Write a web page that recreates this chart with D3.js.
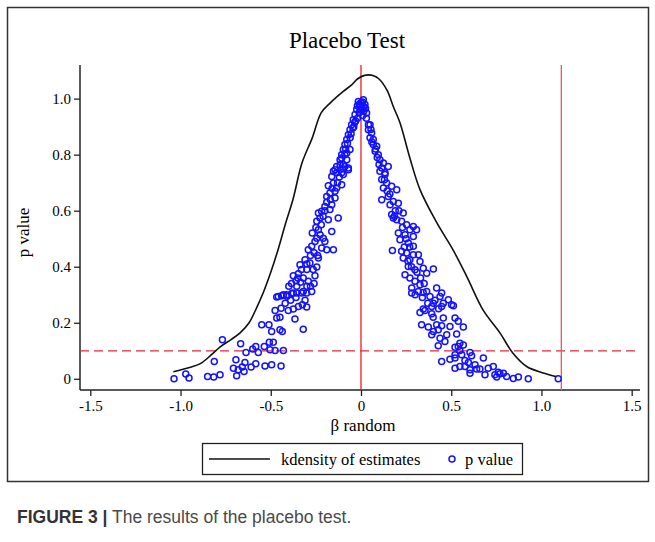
<!DOCTYPE html>
<html>
<head>
<meta charset="utf-8">
<script src="https://cdn.jsdelivr.net/npm/d3@7"></script>
<style>
  body { margin: 0; background: #fff; }
  svg text { font-family: "Liberation Serif", "Times New Roman", serif; fill: #000; }
  svg text.caption { font-family: "Liberation Sans", Arial, sans-serif; fill: #4a4a4a; }
</style>
</head>
<body>
<div id="d3-container"></div>
<script>
/**
 * DATA
 * */
const xTicks = [-1.5, -1.0, -0.5, 0, 0.5, 1.0, 1.5];
const yTicks = [0, 0.2, 0.4, 0.6, 0.8, 1.0];
const refLinesX = [0, 1.11];
const refLineY = 0.1;

// kernel density of the placebo estimates
const kdeX = [-1.04, -0.95, -0.89, -0.83, -0.78, -0.72, -0.67, -0.62, -0.576, -0.54, -0.5, -0.46, -0.42,
  -0.377, -0.327, -0.27, -0.22, -0.17, -0.1, -0.05, -0.02, 0.02, 0.07, 0.1, 0.144, 0.18, 0.216, 0.27,
  0.327, 0.42, 0.51, 0.587, 0.676, 0.77, 0.84, 0.92, 1.01, 1.085];
const kdeY = [0.025, 0.04, 0.054, 0.085, 0.114, 0.14, 0.164, 0.2, 0.257, 0.31, 0.38, 0.46, 0.55,
  0.64, 0.77, 0.86, 0.95, 0.985, 1.025, 1.05, 1.07, 1.083, 1.082, 1.07, 1.03, 0.97, 0.914, 0.79,
  0.675, 0.557, 0.46, 0.364, 0.246, 0.164, 0.093, 0.043, 0.021, 0.007];

// [beta random, p value]
const placeboPoints = [
  [-1.036,0.0],[-0.971,0.017],[-0.953,0.003],[-0.85,0.008],[-0.816,0.006],[-0.781,0.014],[-0.813,0.062],
  [-0.768,0.139],[-0.667,0.125],[-0.693,0.068],[-0.707,0.038],[-0.689,0.011],[-0.68,0.032],[-0.658,0.042],
  [-0.643,0.058],[-0.648,0.026],[-0.609,0.042],[-0.583,0.054],[-0.637,0.094],[-0.6,0.106],[-0.583,0.115],
  [-0.569,0.094],[-0.536,0.115],[-0.532,0.046],[-0.495,0.05],[-0.443,0.046],[-0.508,0.13],[-0.486,0.13],
  [-0.504,0.104],[-0.476,0.101],[-0.43,0.101],[-0.55,0.193],[-0.51,0.193],[-0.495,0.169],[-0.449,0.175],
  [-0.436,0.169],[-0.467,0.217],[-0.449,0.22],[-0.366,0.213],[-0.32,0.177],[-0.476,0.244],[-0.443,0.252],
  [-0.403,0.244],[-0.375,0.249],[-0.347,0.258],[-0.325,0.264],[-0.301,0.256],[-0.467,0.292],[-0.44,0.296],
  [-0.412,0.3],[-0.384,0.304],[-0.356,0.306],[-0.328,0.306],[-0.301,0.306],
  [-0.458,0.294],[-0.43,0.3],[-0.41,0.295],[-0.375,0.306],[-0.356,0.33],[-0.32,0.312],[-0.273,0.312],
  [-0.4,0.33],[-0.385,0.34],[-0.36,0.35],[-0.335,0.345],[-0.3,0.33],[-0.265,0.39],[-0.3,0.39],
  [-0.375,0.368],[-0.347,0.375],[-0.32,0.36],[-0.292,0.348],[-0.255,0.368],[-0.338,0.407],[-0.31,0.425],
  [-0.283,0.413],[-0.245,0.399],[-0.236,0.431],[-0.292,0.461],[-0.273,0.473],[-0.255,0.49],[-0.245,0.502],
  [-0.218,0.467],[-0.19,0.461],[-0.153,0.461],[-0.227,0.514],[-0.209,0.502],[-0.236,0.532],[-0.245,0.562],
  [-0.227,0.574],[-0.236,0.592],[-0.218,0.598],[-0.181,0.568],[-0.162,0.526],[-0.172,0.604],[-0.2,0.615],
  [-0.162,0.621],[-0.126,0.574],[-0.19,0.651],[-0.172,0.663],[-0.144,0.669],[-0.144,0.645],[-0.181,0.689],
  [-0.153,0.699],[-0.135,0.681],[-0.107,0.693],[-0.162,0.722],[-0.135,0.735],[-0.098,0.729],[-0.144,0.746],
  [-0.116,0.764],[-0.089,0.758],[-0.07,0.746],[-0.107,0.788],[-0.079,0.782],[-0.079,0.806],[-0.061,0.818],
  [-0.35,0.36],[-0.33,0.39],[-0.3,0.41],[-0.28,0.44],[-0.26,0.45],[-0.27,0.52],[-0.25,0.54],[-0.22,0.55],
  [-0.21,0.58],[-0.2,0.6],[-0.19,0.63],[-0.17,0.64],[-0.16,0.68],[-0.13,0.7],[-0.12,0.72],[-0.1,0.75],
  [-0.42,0.27],[-0.39,0.28],[-0.36,0.29],[-0.31,0.28],[-0.28,0.33],[-0.26,0.34],[-0.24,0.44],[-0.2,0.49],
  [-0.015,0.99],[0.013,0.996],[-0.006,0.973],[0.022,0.979],[-0.024,0.961],[-0.033,0.943],[-0.043,0.925],
  [-0.052,0.907],[-0.061,0.889],[-0.07,0.871],[-0.079,0.854],[-0.089,0.836],[-0.098,0.818],[-0.107,0.8],
  [-0.116,0.782],[-0.098,0.764],[-0.07,0.752],[-0.135,0.758],[-0.153,0.741],[-0.107,0.735],
  [0.031,0.949],[0.0,0.985],[0.005,0.965],[-0.01,0.95],[0.015,0.955],[-0.02,0.93],[-0.035,0.915],
  [-0.045,0.895],[-0.055,0.875],[-0.06,0.86],[-0.075,0.84],[-0.085,0.82],[-0.09,0.8],[0.03,0.93],[0.025,0.965],
  [-0.01,0.98],[0.008,0.988],[-0.02,0.975],[0.018,0.97],[-0.005,0.96],[0.01,0.94],[-0.03,0.92],[-0.04,0.9],
  [0.041,0.907],[0.05,0.907],[0.041,0.889],[0.059,0.877],[0.05,0.86],[0.068,0.854],[0.068,0.836],
  [0.087,0.83],[0.078,0.812],[0.096,0.8],[0.105,0.782],[0.124,0.77],[0.115,0.752],[0.151,0.758],
  [0.133,0.735],[0.055,0.89],[0.06,0.845],[0.08,0.82],[0.09,0.79],[0.1,0.765],
  [0.105,0.741],[0.133,0.729],[0.115,0.711],[0.142,0.699],[0.124,0.681],[0.17,0.687],[0.198,0.675],
  [0.115,0.639],[0.151,0.651],[0.179,0.633],[0.207,0.627],[0.161,0.621],[0.179,0.574],[0.198,0.568],
  [0.17,0.586],[0.185,0.58],[0.234,0.592],[0.225,0.562],[0.253,0.55],[0.29,0.544],[0.271,0.532],[0.308,0.532],
  [0.207,0.52],[0.244,0.514],[0.29,0.508],[0.216,0.496],[0.262,0.485],[0.29,0.473],[0.174,0.458],
  [0.225,0.455],[0.253,0.449],[0.29,0.443],[0.318,0.443],[0.234,0.431],[0.271,0.425],[0.327,0.419],
  [0.262,0.401],[0.299,0.389],[0.345,0.395],[0.401,0.392],[0.364,0.377],[0.244,0.371],[0.271,0.36],
  [0.299,0.348],[0.327,0.336],[0.281,0.324],[0.318,0.312],[0.364,0.312],[0.419,0.324],[0.382,0.294],
  [0.438,0.294],[0.484,0.282],[0.456,0.27],[0.502,0.264],[0.392,0.258],[0.345,0.249],
  [0.13,0.71],[0.145,0.67],[0.16,0.66],[0.19,0.6],[0.21,0.6],[0.23,0.54],[0.25,0.5],[0.27,0.47],
  [0.24,0.47],[0.26,0.42],[0.28,0.4],[0.31,0.38],[0.33,0.36],[0.35,0.34],[0.3,0.3],[0.34,0.29],
  [0.37,0.27],[0.41,0.28],[0.43,0.25],[0.4,0.22],
  [0.281,0.306],[0.345,0.308],[0.447,0.306],[0.512,0.261],[0.447,0.258],[0.401,0.27],
  [0.327,0.237],[0.355,0.244],[0.392,0.232],[0.456,0.217],[0.521,0.217],[0.539,0.205],[0.336,0.193],
  [0.373,0.185],[0.419,0.193],[0.447,0.189],[0.493,0.187],[0.567,0.185],[0.401,0.169],[0.428,0.175],
  [0.392,0.157],[0.475,0.157],[0.53,0.16],[0.438,0.145],[0.465,0.133],[0.428,0.118],[0.548,0.127],
  [0.539,0.115],[0.567,0.121],[0.521,0.113],[0.548,0.101],[0.604,0.094],[0.521,0.086],[0.558,0.086],
  [0.613,0.082],[0.678,0.074],[0.493,0.07],[0.521,0.074],[0.447,0.062],[0.576,0.065],[0.595,0.058],
  [0.632,0.05],[0.521,0.038],[0.548,0.044],[0.576,0.044],[0.604,0.032],[0.641,0.035],[0.659,0.035],
  [0.705,0.038],[0.733,0.044],[0.604,0.02],[0.687,0.014],[0.742,0.014],[0.761,0.023],[0.77,0.018],
  [0.789,0.02],[0.752,0.006],[0.807,0.008],[0.844,0.001],[0.872,0.006],[0.927,0.0],[1.093,0.0]
];

const legendItems = ["kdensity of estimates", "p value"];

/**
 * LAYOUT
 * */
const width = 655, height = 542;
const plot = { left: 80, right: 640, top: 65, bottom: 390 };
const blue = "#1212ff";

const svg = d3.select("#d3-container")
  .append("svg")
  .attr("width", width)
  .attr("height", height);

// outer frame
svg.append("rect")
  .attr("x", 7.5).attr("y", 7.5)
  .attr("width", 641).attr("height", 474)
  .attr("fill", "none").attr("stroke", "#333").attr("stroke-width", 1.5);

const x = d3.scaleLinear().domain([-1.557, 1.546]).range([plot.left, plot.right]);
const y = d3.scaleLinear().domain([-0.04, 1.12]).range([plot.bottom, plot.top]);

// title
svg.append("text")
  .attr("x", 347).attr("y", 48)
  .attr("text-anchor", "middle")
  .style("font-size", "23px")
  .text("Placebo Test");

// axes
const fmtX = d => d === 0 ? "0" : d3.format(".1f")(d).replace("−", "-");
const xAxis = svg.append("g")
  .attr("transform", `translate(0,${plot.bottom})`)
  .call(d3.axisBottom(x).tickValues(xTicks).tickFormat(fmtX).tickSize(6).tickPadding(4));
const yAxis = svg.append("g")
  .attr("transform", `translate(${plot.left},0)`)
  .call(d3.axisLeft(y).tickValues(yTicks).tickFormat(d => d === 0 ? "0" : d3.format(".1f")(d)).tickSize(6).tickPadding(3));

[xAxis, yAxis].forEach(g => {
  g.select(".domain").attr("stroke", "#222").attr("stroke-width", 1.5);
  g.selectAll(".tick line").attr("stroke", "#222").attr("stroke-width", 1.3);
  g.selectAll(".tick text")
    .style("font-family", '"Liberation Serif", "Times New Roman", serif')
    .style("font-size", "15px").attr("fill", "#000");
});
// plain axis lines (no end caps)
xAxis.select(".domain").attr("d", `M${plot.left},0H${plot.right}`);
yAxis.select(".domain").attr("d", `M0,${plot.top}V${plot.bottom}`);

svg.append("text")
  .attr("x", x(0) + 2).attr("y", 431)
  .attr("text-anchor", "middle")
  .style("font-size", "17px")
  .text("β random");

svg.append("text")
  .attr("transform", `translate(29,${(plot.top + plot.bottom) / 2 + 5}) rotate(-90)`)
  .attr("text-anchor", "middle")
  .style("font-size", "17px")
  .text("p value");

// reference lines
svg.append("line")
  .attr("x1", plot.left).attr("x2", plot.right)
  .attr("y1", y(refLineY)).attr("y2", y(refLineY))
  .attr("stroke", "#e0283a").attr("stroke-width", 1.3)
  .attr("stroke-dasharray", "9,5");

svg.selectAll(".vref")
  .data(refLinesX)
  .join("line")
  .attr("class", "vref")
  .attr("x1", d => x(d)).attr("x2", d => x(d))
  .attr("y1", plot.top).attr("y2", plot.bottom)
  .attr("stroke", (d, i) => i === 0 ? "#ee1c24" : "#e05a68")
  .attr("stroke-width", 1.3);

// kdensity
const kde = kdeX.map((d, i) => [d, kdeY[i]]);
svg.append("path")
  .datum(kde)
  .attr("fill", "none")
  .attr("stroke", "#111")
  .attr("stroke-width", 1.6)
  .attr("d", d3.line().x(d => x(d[0])).y(d => y(d[1])).curve(d3.curveCatmullRom));

// p values
svg.selectAll(".pt")
  .data(placeboPoints)
  .join("circle")
  .attr("class", "pt")
  .attr("cx", d => x(d[0]))
  .attr("cy", d => y(d[1]))
  .attr("r", 3)
  .attr("fill", "none")
  .attr("stroke", blue)
  .attr("stroke-width", 1.5);

// legend
const lg = svg.append("g");
lg.append("rect")
  .attr("x", 202.5).attr("y", 443.5)
  .attr("width", 320).attr("height", 31)
  .attr("fill", "none").attr("stroke", "#222").attr("stroke-width", 1.3);
lg.append("line")
  .attr("x1", 209).attr("x2", 270).attr("y1", 459).attr("y2", 459)
  .attr("stroke", "#111").attr("stroke-width", 1.6);
lg.append("text")
  .attr("x", 281).attr("y", 465)
  .style("font-size", "16.5px")
  .text(legendItems[0]);
lg.append("circle")
  .attr("cx", 452).attr("cy", 459).attr("r", 3)
  .attr("fill", "none").attr("stroke", blue).attr("stroke-width", 1.5);
lg.append("text")
  .attr("x", 465).attr("y", 465)
  .style("font-size", "16.5px")
  .text(legendItems[1]);

// caption
const cap = svg.append("text")
  .attr("class", "caption")
  .attr("x", 17).attr("y", 523)
  .style("font-size", "17.5px");
cap.append("tspan").style("font-weight", "bold").attr("fill", "#333").text("FIGURE 3 |");
cap.append("tspan").text(" The results of the placebo test.");
</script>
</body>
</html>
